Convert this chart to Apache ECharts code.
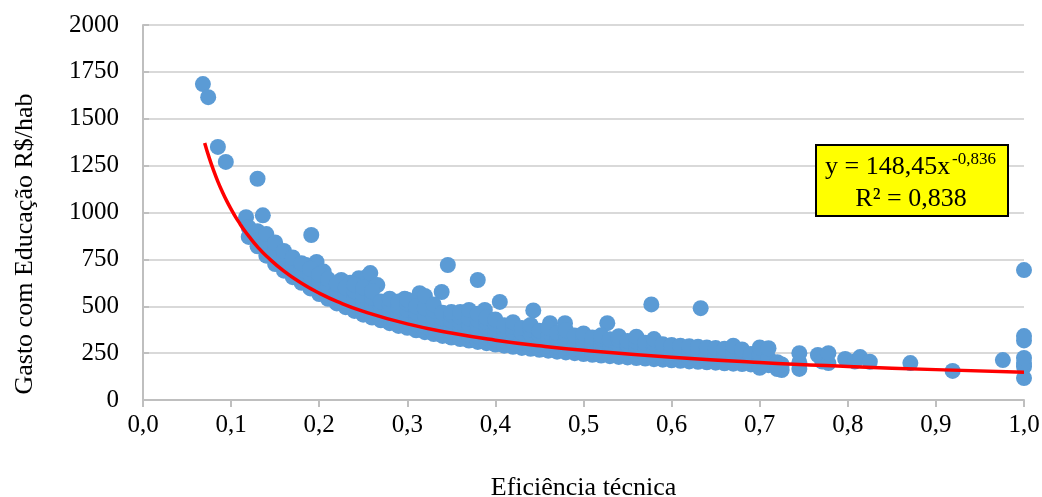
<!DOCTYPE html>
<html>
<head>
<meta charset="utf-8">
<script src="https://cdn.jsdelivr.net/npm/echarts@6/dist/echarts.min.js"></script>
<style>
html,body{margin:0;padding:0;background:#fff;overflow:hidden;}
#chart{width:1042px;height:497px;}
</style>
</head>
<body>
<div id="chart"></div>
<script>
// ---- data ----
const xTickLabels = ['0,0','0,1','0,2','0,3','0,4','0,5','0,6','0,7','0,8','0,9','1,0'];
const yTickLabels = ['0','250','500','750','1000','1250','1500','1750','2000'];

// isolated points
const outliers = [
  [0.068,1685],[0.074,1615],[0.085,1350],[0.094,1270],[0.130,1180],[0.117,975],[0.136,985],
  [0.191,880],[0.197,736],[0.185,720],[0.205,685],[0.225,640],[0.235,625],[0.245,650],[0.255,660],
  [0.258,677],[0.266,613],[0.297,540],[0.314,570],[0.339,576],[0.346,720],[0.380,640],
  [0.405,523],[0.388,480],[0.443,478],[0.462,410],[0.479,410],[0.527,410],[0.577,510],[0.633,490]
];

// dense band: [x, [y values at that x]]
const bandColumns = [
  [0.12,[870,920]],
  [0.13,[820,860,900]],
  [0.14,[770,810,850,885]],
  [0.15,[725,765,805,840]],
  [0.16,[690,725,760,795]],
  [0.17,[655,690,725,760]],
  [0.18,[625,660,695,730]],
  [0.19,[595,630,665,700]],
  [0.20,[565,600,635,670]],
  [0.21,[540,575,610,645]],
  [0.22,[515,550,585,620]],
  [0.23,[495,530,565,600]],
  [0.24,[475,510,545,580,615]],
  [0.25,[455,490,525,560,600]],
  [0.26,[440,475,510,545,580]],
  [0.27,[425,460,495,525]],
  [0.28,[410,445,478,510,540]],
  [0.29,[395,430,462,495,525]],
  [0.30,[385,418,450,480,515,535]],
  [0.31,[372,405,437,468,500]],
  [0.32,[362,394,425,456,490,555]],
  [0.33,[352,383,414,445,478,510]],
  [0.34,[342,373,404,435,465]],
  [0.35,[333,364,394,424,455,470]],
  [0.36,[325,355,385,414,445,470]],
  [0.37,[317,347,376,405,435,480]],
  [0.38,[310,339,368,396,425,460]],
  [0.39,[303,331,360,388,416,440]],
  [0.40,[296,324,352,380,407,430]],
  [0.41,[290,317,345,372,399]],
  [0.42,[284,311,338,365,392,415]],
  [0.43,[278,305,331,358,384]],
  [0.44,[273,299,325,351,377,400]],
  [0.45,[268,294,319,345,370]],
  [0.46,[263,288,313,338,363,385]],
  [0.47,[258,283,308,332,357]],
  [0.48,[254,278,302,326,350,372]],
  [0.49,[250,274,297,321,344]],
  [0.50,[245,269,292,316,339,355]],
  [0.51,[241,265,288,311,334]],
  [0.52,[237,261,283,306,329,345]],
  [0.53,[234,257,279,301,324]],
  [0.54,[230,253,275,297,320,340]],
  [0.55,[227,249,271,293,315]],
  [0.56,[224,246,267,289,311,338]],
  [0.57,[221,242,264,285,306]],
  [0.58,[218,239,260,281,302,325]],
  [0.59,[215,236,257,277,298]],
  [0.60,[212,233,253,274,294]],
  [0.61,[209,230,250,270,290]],
  [0.62,[206,227,247,267,287]],
  [0.63,[204,224,244,264,284]],
  [0.64,[201,221,241,261,280]],
  [0.65,[199,218,238,257,277]],
  [0.66,[196,216,235,254,274]],
  [0.67,[194,213,232,252,290]],
  [0.68,[192,211,230,249,270]],
  [0.69,[190,209,228,246]],
  [0.70,[172,188,207,225,244,280]],
  [0.71,[186,204,223,276]],
  [0.72,[165,184,202]],
  [0.725,[160,190]],
  [0.745,[166,200,250]],
  [0.766,[240]],
  [0.771,[205]],
  [0.778,[197,250]],
  [0.797,[219]],
  [0.808,[205]],
  [0.814,[229]],
  [0.825,[204]],
  [0.871,[197]],
  [0.919,[155]],
  [0.976,[213]],
  [1.0,[117,178,197,224,318,341,693]]
];

// power trend line y = 148,45 x^-0,836 (values at listed x)
const trendX = [0.07,0.075,0.08,0.085,0.09,0.095,0.10,0.105,0.11,0.115,0.12,0.13,0.14,0.16,0.18,0.20,0.22,0.25,0.30,0.35,0.40,0.45,0.50,0.60,0.70,0.80,0.90,1.00];
const trendY = [1371,1294,1226,1165,1111,1062,1018,977,940,905,874,817,768,687,623,570,526,473,406,357,319,289,265,228,200,179,162,148];

// ---- build ----
const scatterData = outliers.slice();
bandColumns.forEach(c => c[1].forEach(v => scatterData.push([c[0], v])));
const trendData = trendX.map((x,i) => [x, trendY[i]]);

const FONT = "'Liberation Serif','Times New Roman',serif";
const chart = echarts.init(document.getElementById('chart'));
chart.setOption({
  animation: false,
  backgroundColor: '#fff',
  grid: {left: 143, right: 18, top: 25, bottom: 97, containLabel: false, outerBoundsMode: 'none'},
  xAxis: {
    type: 'value', min: 0, max: 1, interval: 0.1,
    name: 'Eficiência técnica', nameLocation: 'middle', nameGap: 75,
    nameTextStyle: {fontFamily: FONT, fontSize: 26, color: '#000'},
    axisLine: {show: true, lineStyle: {color: '#bfbfbf', width: 2}},
    axisTick: {show: true, length: 7, lineStyle: {color: '#bfbfbf', width: 2}},
    axisLabel: {fontFamily: FONT, fontSize: 25, color: '#000', margin: 13,
      formatter: v => xTickLabels[Math.round(v*10)]},
    splitLine: {show: false}
  },
  yAxis: {
    type: 'value', min: 0, max: 2000, interval: 250,
    axisLine: {show: true, lineStyle: {color: '#bfbfbf', width: 2}},
    axisTick: {show: true, inside: true, length: 6, lineStyle: {color: '#bfbfbf', width: 2}},
    axisLabel: {fontFamily: FONT, fontSize: 25, color: '#000', margin: 24,
      formatter: v => yTickLabels[Math.round(v/250)]},
    splitLine: {show: true, lineStyle: {color: '#d9d9d9', width: 2}}
  },
  series: [
    {
      type: 'scatter', data: scatterData, symbolSize: 16,
      itemStyle: {color: '#5B9BD5', opacity: 1}, z: 2
    },
    {
      type: 'line', data: trendData, smooth: true, showSymbol: false, symbol: 'none',
      lineStyle: {color: '#ff0000', width: 3.5}, z: 3
    }
  ],
  graphic: [
    {
      type: 'text', x: 25, y: 244, rotation: Math.PI / 2,
      style: {text: 'Gasto com Educação R$/hab', fontFamily: FONT, fontSize: 26, fill: '#000',
              align: 'center', verticalAlign: 'middle'}
    },
    {type: 'rect', x: 816, y: 145, z: 100, shape: {x: 0, y: 0, width: 192, height: 71},
     style: {fill: '#ffff00', stroke: '#000', lineWidth: 2}},
    {type: 'text', x: 825, y: 167, z: 101,
     style: {text: 'y = 148,45x', fontFamily: FONT, fontSize: 26, fill: '#000',
             align: 'left', verticalAlign: 'middle'}},
    {type: 'text', x: 952, y: 160, z: 101,
     style: {text: '-0,836', fontFamily: FONT, fontSize: 17, fill: '#000',
             align: 'left', verticalAlign: 'middle'}},
    {type: 'text', x: 911, y: 199, z: 101,
     style: {text: 'R² = 0,838', fontFamily: FONT, fontSize: 26, fill: '#000',
             align: 'center', verticalAlign: 'middle'}}
  ]
});
</script>
</body>
</html>
